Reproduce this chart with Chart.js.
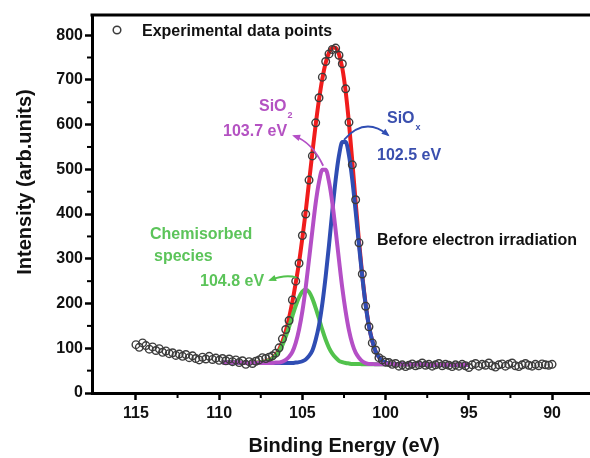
<!DOCTYPE html>
<html><head><meta charset="utf-8">
<script src="https://cdn.jsdelivr.net/npm/chart.js@4.4.1/dist/chart.umd.min.js"></script>
<style>html,body{margin:0;padding:0;background:#fff}</style>
</head><body>
<canvas id="c" width="590" height="458" style="display:block;width:590px;height:458px"></canvas>
<script>
// ---- data ----
const expEnergy = [
115.0,114.8,114.6,114.4,114.2,114.0,113.8,113.6,113.4,113.2,
113.0,112.8,112.6,112.4,112.2,112.0,111.8,111.6,111.4,111.2,
111.0,110.8,110.6,110.4,110.2,110.0,109.8,109.6,109.4,109.2,
109.0,108.8,108.6,108.4,108.2,108.0,107.8,107.6,107.4,107.2,
107.0,106.8,106.6,106.4,106.2,106.0,105.8,105.6,105.4,105.2,
105.0,104.8,104.6,104.4,104.2,104.0,103.8,103.6,103.4,103.2,
103.0,102.8,102.6,102.4,102.2,102.0,101.8,101.6,101.4,101.2,
101.0,100.8,100.6,100.4,100.2,100.0,99.8,99.6,99.4,99.2,
99.0,98.8,98.6,98.4,98.2,98.0,97.8,97.6,97.4,97.2,
97.0,96.8,96.6,96.4,96.2,96.0,95.8,95.6,95.4,95.2,
95.0,94.8,94.6,94.4,94.2,94.0,93.8,93.6,93.4,93.2,
93.0,92.8,92.6,92.4,92.2,92.0,91.8,91.6,91.4,91.2,
91.0,90.8,90.6,90.4,90.2,90.0];
const expIntensity = [
108,102,112,106,98,103,95,99,91,94,
88,90,84,87,82,86,79,83,77,74,
80,76,82,75,78,73,77,72,76,70,
74,68,72,64,70,66,71,74,79,77,
80,83,89,101,121,142,162,208,250,290,
352,400,476,530,604,660,706,741,758,768,
771,755,736,680,605,510,432,336,266,194,
148,112,96,79,74,69,68,64,66,60,
63,59,62,65,61,63,67,62,64,60,
63,66,61,64,62,59,63,60,64,61,
57,63,66,60,64,62,67,61,58,63,
65,60,64,67,61,59,63,66,62,60,
64,61,65,63,62,64];

const fitEnergy = [
109.8,109.0,108.4,108.0,107.6,107.4,107.2,
107.0,106.8,106.6,106.4,106.2,106.0,105.8,105.6,105.4,105.2,
105.0,104.8,104.6,104.4,104.2,104.0,103.8,103.6,103.4,103.2,
103.0,102.8,102.6,102.4,102.2,102.0,101.8,101.6,101.4,101.2,
101.0,100.8,100.6,100.4,100.2,100.0,
99.8,99.6,99.4,99.0,98.0,97.0,96.0,95.0];
const fitEnvelope = [
68,68,67,67,68,69,71,
74,78,86,97,115,138,168,204,246,292,
347,406,472,537,600,656,703,738,761,772,
772,757,726,674,603,517,427,340,262,199,
150,116,93,80,72,68,
66,65,64,64,64,63,63,63];
const fitChemisorbed = [
68,68,67,67,68,69,70,
73,77,84,93,107,126,148,172,195,214,
227,231,226,211,190,166,141,119,101,88,
79,72,69,67,66,65,65,65,64,64,
64,64,64,64,64,64,
64,64,64,64,64,63,63,63];
const fitSiO2 = [
68,68,67,67,67,67,67,
67,67,68,68,70,74,81,92,112,142,
183,236,299,363,425,472,499,499,472,425,
363,297,234,182,140,110,90,79,71,67,
65,65,64,64,64,64,
64,64,64,64,64,63,63,63];
const fitSiOx = [
68,68,67,67,67,67,67,
67,67,67,67,67,67,67,67,68,69,
71,75,83,95,119,152,200,261,331,407,
477,531,561,561,531,476,406,330,259,197,
149,116,93,80,72,68,
66,65,64,64,64,63,63,63];

const xMajorTicks = [115,110,105,100,95,90];
const xMinorTicks = [112.5,107.5,102.5,97.5,92.5];
const yMajorTicks = [0,100,200,300,400,500,600,700,800];
const yMinorTicks = [50,150,250,350,450,550,650,750];

// ---- styles ----
const FONT = "'Liberation Sans', Arial, Helvetica, sans-serif";
const C_RED = '#f01c1c', C_BLUE = '#2f4db3', C_PURPLE = '#b44fc6', C_GREEN = '#52c24c';
const C_BLUE_T = '#3a4fae', C_PURPLE_T = '#b452c2', C_GREEN_T = '#5cc45a';

const pts = (xs, ys) => xs.map((x, i) => ({x, y: ys[i]}));
const lineDs = (label, ys, color, order) => ({
  type: 'line', label, data: pts(fitEnergy, ys), borderColor: color, borderWidth: 4,
  pointRadius: 0, fill: false, cubicInterpolationMode: 'monotone', order
});

function text(ctx, s, x, y, size, color, align) {
  ctx.font = 'bold ' + size + 'px ' + FONT;
  ctx.fillStyle = color; ctx.textAlign = align || 'left'; ctx.textBaseline = 'alphabetic';
  ctx.fillText(s, x, y);
  return ctx.measureText(s).width;
}
function arrow(ctx, x0, y0, cx, cy, x1, y1, color, head) {
  ctx.save();
  ctx.strokeStyle = color; ctx.fillStyle = color; ctx.lineWidth = 1.8;
  ctx.beginPath(); ctx.moveTo(x0, y0); ctx.quadraticCurveTo(cx, cy, x1, y1); ctx.stroke();
  if (head) {
    const a = Math.atan2(y1 - cy, x1 - cx), L = 6, W = 3.2;
    ctx.beginPath();
    ctx.moveTo(x1 + Math.cos(a) * 2, y1 + Math.sin(a) * 2);
    ctx.lineTo(x1 - Math.cos(a) * L - Math.sin(a) * W, y1 - Math.sin(a) * L + Math.cos(a) * W);
    ctx.lineTo(x1 - Math.cos(a) * L + Math.sin(a) * W, y1 - Math.sin(a) * L - Math.cos(a) * W);
    ctx.closePath(); ctx.fill();
  }
  ctx.restore();
}

const decor = {
  id: 'decor',
  afterDatasetsDraw(chart) {
    const ctx = chart.ctx, a = chart.chartArea, xs = chart.scales.x, ys = chart.scales.y;
    ctx.save();
    // top frame line
    ctx.strokeStyle = '#000'; ctx.lineWidth = 3;
    ctx.beginPath(); ctx.moveTo(a.left - 1.5, a.top); ctx.lineTo(a.right, a.top); ctx.stroke();
    // minor ticks
    ctx.lineWidth = 2;
    xMinorTicks.forEach(v => { const p = xs.getPixelForValue(v);
      ctx.beginPath(); ctx.moveTo(p, a.bottom); ctx.lineTo(p, a.bottom + 5); ctx.stroke(); });
    yMinorTicks.forEach(v => { const p = ys.getPixelForValue(v);
      ctx.beginPath(); ctx.moveTo(a.left, p); ctx.lineTo(a.left - 5, p); ctx.stroke(); });

    // legend
    ctx.lineWidth = 1.5; ctx.strokeStyle = '#3c3c3c';
    ctx.beginPath(); ctx.arc(117, 30, 3.8, 0, Math.PI * 2); ctx.stroke();
    text(ctx, 'Experimental data points', 142, 36, 16, '#111');

    // SiO2 label
    let w = text(ctx, 'SiO', 259, 111, 16, C_PURPLE_T);
    text(ctx, '2', 259 + w + 1, 118, 9, C_PURPLE_T);
    text(ctx, '103.7 eV', 223, 136, 16, C_PURPLE_T);
    arrow(ctx, xs.getPixelForValue(103.75), ys.getPixelForValue(508), 312, 142, 294, 136, C_PURPLE, true);

    // SiOx label
    w = text(ctx, 'SiO', 387, 123, 16, C_BLUE_T);
    text(ctx, 'x', 387 + w + 1, 130, 9, C_BLUE_T);
    text(ctx, '102.5 eV', 377, 160, 16, C_BLUE_T);
    arrow(ctx, xs.getPixelForValue(102.5), ys.getPixelForValue(566), 365, 116, 388, 135, C_BLUE, true);

    // Chemisorbed label
    text(ctx, 'Chemisorbed', 150, 239, 16, C_GREEN_T);
    text(ctx, 'species', 154, 261, 16, C_GREEN_T);
    text(ctx, '104.8 eV', 200, 286, 16, C_GREEN_T);
    arrow(ctx, xs.getPixelForValue(105.35), ys.getPixelForValue(258), 286, 274, 270, 280, C_GREEN, true);

    text(ctx, 'Before electron irradiation', 377, 245, 16, '#111');

    // axis titles
    ctx.save();
    ctx.translate(31, 182); ctx.rotate(-Math.PI / 2);
    text(ctx, 'Intensity (arb.units)', 0, 0, 20, '#111', 'center');
    ctx.restore();
    text(ctx, 'Binding Energy (eV)', 344, 452, 20, '#111', 'center');
    ctx.restore();
  }
};

new Chart(document.getElementById('c'), {
  type: 'scatter',
  data: {
    datasets: [
      { type: 'scatter', label: 'Experimental data points', data: pts(expEnergy, expIntensity),
        pointStyle: 'circle', pointRadius: 3.8, pointBorderWidth: 1.4, pointBorderColor: '#3c3c3c',
        pointBackgroundColor: 'rgba(255,255,255,0)', showLine: false, order: 0 },
      lineDs('SiO2 103.7 eV', fitSiO2, C_PURPLE, 1),
      lineDs('SiOx 102.5 eV', fitSiOx, C_BLUE, 2),
      lineDs('Chemisorbed species 104.8 eV', fitChemisorbed, C_GREEN, 3),
      lineDs('Envelope', fitEnvelope, C_RED, 4)
    ]
  },
  options: {
    responsive: false, animation: false, devicePixelRatio: 1,
    layout: { autoPadding: false, padding: { top: 15, right: 0, left: 0, bottom: 0 } },
    plugins: { legend: { display: false }, tooltip: { enabled: false } },
    scales: {
      x: {
        type: 'linear', reverse: true, min: 87.72, max: 117.64,
        afterBuildTicks: s => { s.ticks = xMajorTicks.map(v => ({ value: v })); },
        afterFit: s => { s.height = 65; s.paddingLeft = 0; s.paddingRight = 0; },
        border: { display: true, width: 3, color: '#000' },
        grid: { drawOnChartArea: false, drawTicks: true, tickLength: 7, tickWidth: 2.5, tickColor: '#000' },
        ticks: { autoSkip: false, maxRotation: 0, padding: 4, color: '#111',
          font: { family: FONT, size: 16, weight: 'bold' } }
      },
      y: {
        type: 'linear', min: 0, max: 845,
        afterBuildTicks: s => { s.ticks = yMajorTicks.map(v => ({ value: v })); },
        afterFit: s => { s.width = 92; s.paddingTop = 0; s.paddingBottom = 0; },
        border: { display: true, width: 3, color: '#000' },
        grid: { drawOnChartArea: false, drawTicks: true, tickLength: 7, tickWidth: 2.5, tickColor: '#000' },
        ticks: { autoSkip: false, padding: 2, color: '#111',
          font: { family: FONT, size: 16, weight: 'bold' } }
      }
    }
  },
  plugins: [decor]
});
</script>
</body></html>
